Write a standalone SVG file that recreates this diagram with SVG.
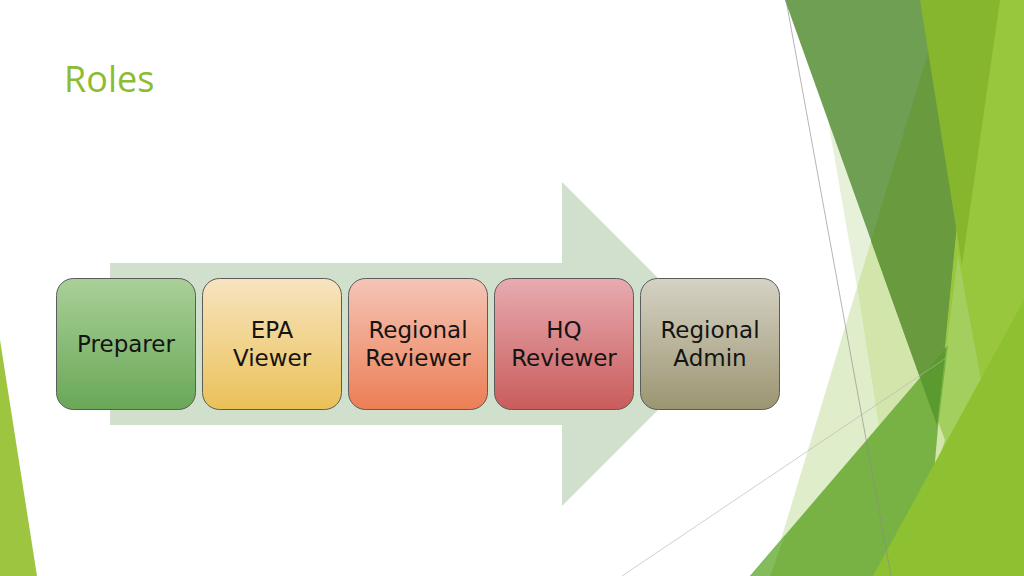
<svg xmlns="http://www.w3.org/2000/svg" width="1024" height="576" viewBox="0 0 1024 576">
<defs>
<linearGradient id="gPrep" x1="0" y1="0" x2="0" y2="1"><stop offset="0" stop-color="#a9d098"/><stop offset="1" stop-color="#69a757"/></linearGradient>
<linearGradient id="gEpa" x1="0" y1="0" x2="0" y2="1"><stop offset="0" stop-color="#f7e4c0"/><stop offset="1" stop-color="#eac157"/></linearGradient>
<linearGradient id="gRR" x1="0" y1="0" x2="0" y2="1"><stop offset="0" stop-color="#f5c5b7"/><stop offset="1" stop-color="#ec7e55"/></linearGradient>
<linearGradient id="gHQ" x1="0" y1="0" x2="0" y2="1"><stop offset="0" stop-color="#e7abb0"/><stop offset="1" stop-color="#c95c5b"/></linearGradient>
<linearGradient id="gRA" x1="0" y1="0" x2="0" y2="1"><stop offset="0" stop-color="#d6d2c5"/><stop offset="1" stop-color="#9b9571"/></linearGradient>
</defs>
<style>
.box{stroke:#5c5c5c;stroke-width:1}
.lbl{font-family:"DejaVu Sans","Open Sans",sans-serif;font-size:23px;fill:#141414;text-anchor:middle}
.title{font-family:"Open Sans","DejaVu Sans",sans-serif;font-size:36px;fill:#8dbc31}
.thin{fill:none;stroke-width:0.8}
</style>
<rect width="1024" height="576" fill="#ffffff"/>
<g id="decor">
<polygon points="0,340 37,576 0,576" fill="#9ec53f"/>
<polygon points="960,0 1024,0 1024,576 900,576 930,430" fill="#98c63d"/>
<polygon points="958,255 981,380 938,458 937,420" fill="#a3cf5e"/>
<polygon points="871,241 857,287 902,576 770,576" fill="#e0edcb"/>
<polygon points="828,120 871,241 857,287" fill="#e7f1d9"/>
<polygon points="857,287 871,241 945,440 902,576" fill="#d2e5ab"/>
<polygon points="785,0 979,0 937,425" fill="#6f9f52"/>
<polygon points="944,0 979,0 937,425 871,241" fill="#6a9a3e"/>
<polygon points="920,0 1000,0 962,265" fill="#86b52e"/>
<polygon points="750,576 948,345 938,427 925,576" fill="#78b244"/>
<polygon points="750,576 785,535 770,576" fill="#83bc5d"/>
<polygon points="920,378 946,347 937,425" fill="#5a9a2e"/>
<polygon points="873,576 1024,300 1024,576" fill="#8dc132"/>
<line class="thin" x1="786" y1="0" x2="891" y2="576" stroke="#8a8a8a" stroke-opacity="0.8"/>
<line class="thin" x1="622" y1="576" x2="946" y2="358" stroke="#b5b5b5" stroke-opacity="0.8"/>
</g>
<text class="title" x="64" y="92">Roles</text>
<g id="connectors">
<polygon id="arrow" points="110,263 562,263 562,182 724,344 562,506 562,425 110,425" fill="#d0e0cc"/>
</g>
<g id="preparer"><rect class="box" x="56.5" y="278.5" width="139" height="131" rx="17" fill="url(#gPrep)"/><text class="lbl" x="126" y="352">Preparer</text></g>
<g id="epa-viewer"><rect class="box" x="202.5" y="278.5" width="139" height="131" rx="17" fill="url(#gEpa)"/><text class="lbl" x="272" y="338">EPA</text><text class="lbl" x="272" y="366">Viewer</text></g>
<g id="regional-reviewer"><rect class="box" x="348.5" y="278.5" width="139" height="131" rx="17" fill="url(#gRR)"/><text class="lbl" x="418" y="338">Regional</text><text class="lbl" x="418" y="366">Reviewer</text></g>
<g id="hq-reviewer"><rect class="box" x="494.5" y="278.5" width="139" height="131" rx="17" fill="url(#gHQ)"/><text class="lbl" x="564" y="338">HQ</text><text class="lbl" x="564" y="366">Reviewer</text></g>
<g id="regional-admin"><rect class="box" x="640.5" y="278.5" width="139" height="131" rx="17" fill="url(#gRA)"/><text class="lbl" x="710" y="338">Regional</text><text class="lbl" x="710" y="366">Admin</text></g>
</svg>
